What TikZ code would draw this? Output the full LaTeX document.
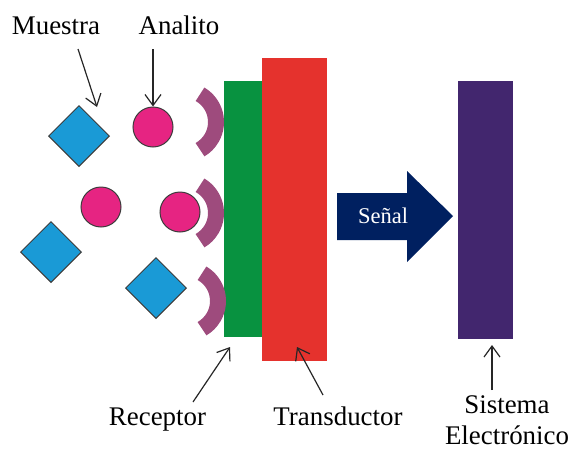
\documentclass[tikz,border=0pt]{standalone}
\usepackage{fontspec}
\setmainfont{Liberation Serif}
\newfontfamily\labelfont{Liberation Serif}
\usetikzlibrary{arrows.meta,shapes.geometric}
\definecolor{dblue}{RGB}{26,154,214}
\definecolor{mag}{RGB}{230,36,130}
\definecolor{recc}{RGB}{158,75,125}
\definecolor{grn}{RGB}{8,146,64}
\definecolor{redc}{RGB}{229,50,45}
\definecolor{purp}{RGB}{66,38,110}
\definecolor{navy}{RGB}{0,32,96}
\definecolor{outl}{RGB}{60,60,60}
\begin{document}
\begin{tikzpicture}[x=1pt,y=-1pt,
  lbl/.style={font=\labelfont\fontsize{26.9}{32}\selectfont, inner sep=0pt, anchor=base},
  dia/.style={diamond, aspect=1, minimum width=61pt, minimum height=61pt, inner sep=0pt, fill=dblue, draw=outl, line width=1pt},
  ball/.style={circle, minimum size=40pt, inner sep=0pt, fill=mag, draw=outl, line width=1pt},
  rec/.style={draw=recc, line width=16pt, line cap=butt},
  bar/.style={rectangle, inner sep=0pt},
  ptr/.style={draw=black!85, line width=1.2pt, -{Straight Barb[length=11pt,width=16pt,line width=1.2pt]}}
]
\useasboundingbox (0,0) rectangle (570,450);
% bars
\node[bar, fill=grn, minimum width=38pt, minimum height=256pt] (green) at (243,209) {};
\node[bar, fill=redc, minimum width=65pt, minimum height=303pt] (red) at (294.5,209.5) {};
\node[bar, fill=purp, minimum width=55pt, minimum height=258pt] (purple) at (485.5,210) {};
% receptors
\draw[rec] (184,122) ++(-60:32) arc[start angle=-60, end angle=60, radius=32];
\draw[rec] (184,213) ++(-60:32) arc[start angle=-60, end angle=60, radius=32];
\draw[rec] (186,301) ++(-60:32) arc[start angle=-60, end angle=60, radius=32];
% sample
\node[dia] (d1) at (79,136) {};
\node[dia] (d2) at (51,252) {};
\node[dia] (d3) at (156,288) {};
\node[ball] (c1) at (153,127) {};
\node[ball] (c2) at (101,207) {};
\node[ball] (c3) at (180,212) {};
% signal arrow
\fill[navy] (337,193) -- (407,193) -- (407,171) -- (453,216) -- (407,262) -- (407,240) -- (337,240) -- cycle;
\node[font=\labelfont\fontsize{22.5}{26}\selectfont, text=white, inner sep=0pt, anchor=base] (senal) at (383,223) {Señal};
% labels
\node[lbl] (muestra) at (56,34) {Muestra};
\node[lbl] (analito) at (179,34) {Analito};
\node[lbl] (receptor) at (157.5,425) {Receptor};
\node[lbl] (transductor) at (338,425) {Transductor};
\node[lbl] (sistema) at (507,413) {Sistema};
\node[lbl] (electronico) at (507,444) {Electrónico};
% pointer coordinates
\coordinate (mS) at (78,49);
\coordinate (mE) at (97,107);
\coordinate (aS) at (153,49);
\coordinate (rS) at (193,402);
\coordinate (rE) at (230,347);
\coordinate (tS) at (323,395);
\coordinate (tE) at (297,347);
\coordinate (sS) at (492,390);
\coordinate (sE) at (492,345);
\draw[ptr] (mS) -- (mE);
\draw[ptr] (aS) -- (c1.north);
\draw[ptr] (rS) -- (rE);
\draw[ptr] (tS) -- (tE);
\draw[ptr] (sS) -- (sE);
\end{tikzpicture}
\end{document}
